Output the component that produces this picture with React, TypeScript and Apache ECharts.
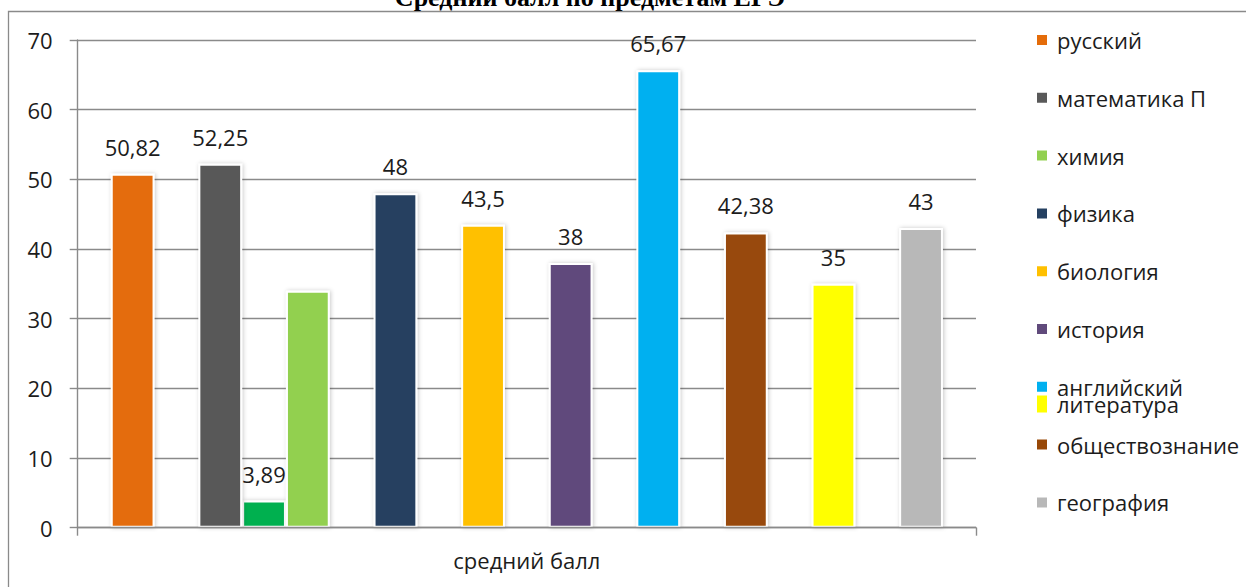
import React, { useEffect, useRef } from "react";
import * as echarts from "echarts";

const categories = ["средний балл"];
const subjectNames = [
  "русский",
  "математика П",
  "математика Б",
  "химия",
  "физика",
  "биология",
  "история",
  "английский",
  "обществознание",
  "литература",
  "география",
];
const subjectValues = [50.82, 52.25, 3.89, 34, 48, 43.5, 38, 65.67, 42.38, 35, 43];
const subjectColors = [
  "#E46C0A",
  "#595959",
  "#00B050",
  "#92D050",
  "#254061",
  "#FFC000",
  "#604A7B",
  "#00B0F0",
  "#984807",
  "#FFFF00",
  "#B8B8B8",
];
const subjectLabelShown = [true, true, true, false, true, true, true, true, true, true, true];
// column order in the sheet; null = blank column
const columnOrder: (string | null)[] = [
  "русский",
  null,
  "математика П",
  "математика Б",
  "химия",
  null,
  "физика",
  null,
  "биология",
  null,
  "история",
  null,
  "английский",
  null,
  "обществознание",
  null,
  "литература",
  null,
  "география",
];
const legendMain = [
  "русский",
  "математика П",
  "химия",
  "физика",
  "биология",
  "история",
  "английский",
  "обществознание",
  "география",
];
const legendExtra = ["литература"];
const yMin = 0;
const yMax = 70;
const yStep = 10;
const titleText = "Средний балл по предметам ЕГЭ";

const FONT = "'Open Sans', 'Noto Sans', sans-serif";
const GRAY = "#8A8A8A";
const TEXT = "#1c1c1c";
const BAR_W = 43.8;

export default function App() {
  const ref = useRef<HTMLDivElement>(null);

  useEffect(() => {
    if (!ref.current) return;
    const chart = echarts.init(ref.current, null, { renderer: "svg" });

    const series = columnOrder.map((name, i) => {
      if (name === null) {
        return {
          type: "bar",
          name: "__blank" + i,
          data: [null],
          silent: true,
          barWidth: BAR_W,
          barGap: "0%",
        };
      }
      const idx = subjectNames.indexOf(name);
      return {
        type: "bar",
        name,
        barWidth: BAR_W,
        barGap: "0%",
        z: name === "математика П" ? 3 : 2,
        data: [subjectValues[idx]],
        itemStyle: {
          color: subjectColors[idx],
          borderColor: "#ffffff",
          borderWidth: 2,
          shadowColor: "rgba(0,0,0,0.22)",
          shadowBlur: 4,
          shadowOffsetX: 1,
        },
        label: {
          show: subjectLabelShown[idx],
          position: "top",
          distance: 16,
          fontFamily: FONT,
          fontSize: 22,
          lineHeight: 22,
          color: TEXT,
          formatter: (p: any) => String(p.value).replace(".", ","),
        },
      };
    });

    chart.setOption({
      animation: false,
      backgroundColor: "#ffffff",
      textStyle: { fontFamily: FONT },
      grid: { left: 77.7, right: 270, top: 40, bottom: 59.3, containLabel: false },
      legend: [
        {
          data: legendMain,
          orient: "vertical",
          left: 1035,
          top: 29,
          padding: 0,
          itemWidth: 12,
          itemHeight: 12,
          itemGap: 35.8,
          icon: "rect",
          selectedMode: false,
          textStyle: { fontFamily: FONT, fontSize: 22, lineHeight: 22, color: TEXT, padding: [0, 0, 0, 4] },
        },
        {
          data: legendExtra,
          orient: "vertical",
          left: 1035,
          top: 393,
          padding: 0,
          itemWidth: 12,
          itemHeight: 19,
          icon: "rect",
          selectedMode: false,
          textStyle: { fontFamily: FONT, fontSize: 22, lineHeight: 22, color: TEXT, padding: [0, 0, 0, 4] },
        },
      ],
      xAxis: {
        type: "category",
        data: categories,
        z: 4,
        axisLine: { show: true, lineStyle: { color: GRAY, width: 1.4 } },
        axisTick: { show: true, length: 8, lineStyle: { color: GRAY, width: 1.4 } },
        axisLabel: { fontFamily: FONT, fontSize: 22, color: TEXT, margin: 21 },
      },
      yAxis: {
        type: "value",
        min: yMin,
        max: yMax,
        interval: yStep,
        axisLine: { show: true, lineStyle: { color: GRAY, width: 1.4 } },
        axisTick: { show: true, length: 8, lineStyle: { color: GRAY, width: 1.4 } },
        splitLine: { show: true, lineStyle: { color: GRAY, width: 1.4 } },
        axisLabel: { fontFamily: FONT, fontSize: 22, color: TEXT, margin: 25 },
      },
      series: series as any,
      graphic: [
        {
          type: "rect",
          silent: true,
          z: 0,
          shape: { x: 8.5, y: 11.5, width: 1400, height: 800 },
          style: { fill: "none", stroke: GRAY, lineWidth: 1.3 },
        },
        {
          type: "text",
          silent: true,
          x: 590,
          y: -3,
          style: {
            text: titleText,
            font: "bold 26px 'Liberation Serif', 'Times New Roman', serif",
            fill: "#000",
            textAlign: "center",
            textVerticalAlign: "middle",
          },
        },
      ],
    });

    return () => chart.dispose();
  }, []);

  return (
    <div
      ref={ref}
      style={{ position: "fixed", left: 0, top: 0, width: 1246, height: 587, background: "#fff" }}
    />
  );
}
